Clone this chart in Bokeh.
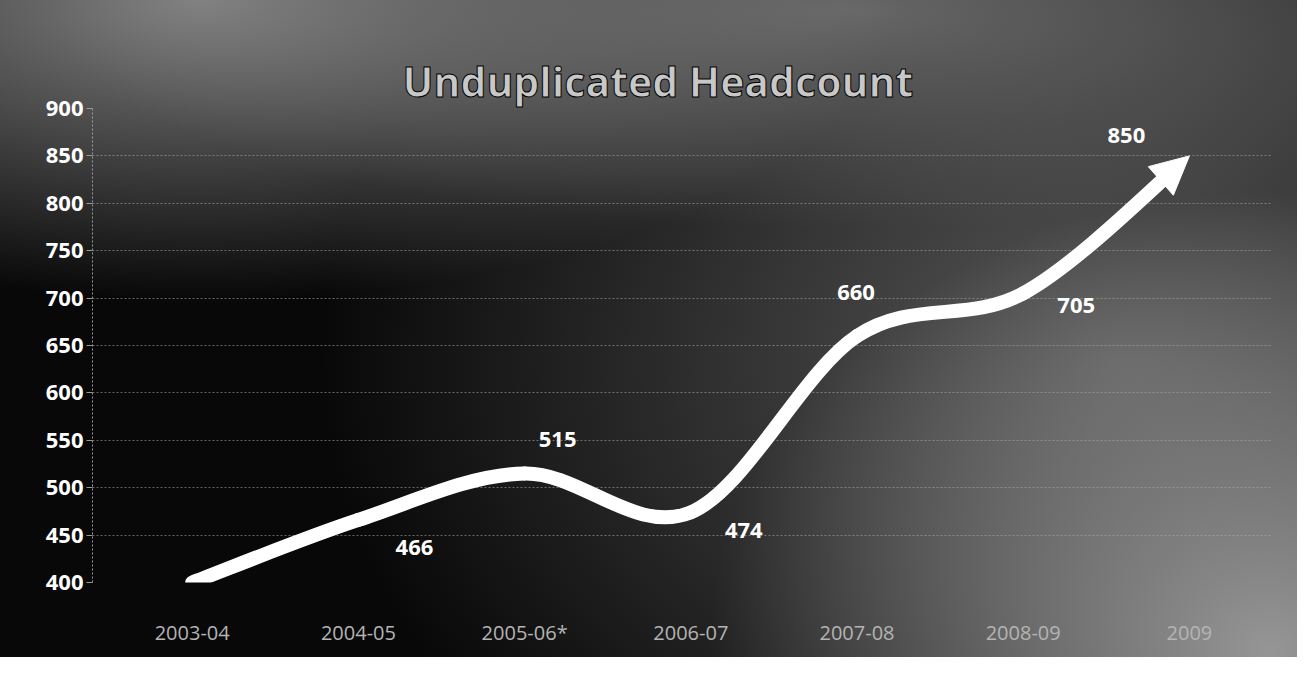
import numpy as np
from bokeh.plotting import figure
from bokeh.models import Range1d, FixedTicker, Arrow, NormalHead
from bokeh.core.properties import value
from bokeh.embed import file_html
from bokeh.resources import INLINE

# ---- data ----
categories = ["2003-04", "2004-05", "2005-06*", "2006-07", "2007-08", "2008-09", "2009"]
headcount = [400, 466, 515, 474, 660, 705, 850]
label_text = ["", "466", "515", "474", "660", "705", "850"]
y_ticks = [400, 450, 500, 550, 600, 650, 700, 750, 800, 850, 900]

# ---- label placement (screen pixel offsets from each point) ----
label_dx = [0, 56, 33, 53, -1, 53, -63]
label_dy = [0, 28, -34, 18, -44, 12, -20]

n = len(categories)
xs = np.arange(n, dtype=float)
ys = np.array(headcount, dtype=float)

# smooth (Catmull-Rom style) bezier segments through the data points
seg = dict(x0=[], y0=[], x1=[], y1=[], cx0=[], cy0=[], cx1=[], cy1=[])
for i in range(n - 1):
    im1 = max(i - 1, 0)
    ip2 = min(i + 2, n - 1)
    p0 = np.array([xs[i], ys[i]]); p1 = np.array([xs[i + 1], ys[i + 1]])
    c0 = p0 + (p1 - np.array([xs[im1], ys[im1]])) / 6.0
    c1 = p1 - (np.array([xs[ip2], ys[ip2]]) - p0) / 6.0
    if i == n - 2:
        # stop the last segment short so the arrow head covers the end
        t = 0.88
        a = p0 + (c0 - p0) * t
        b = c0 + (c1 - c0) * t
        c = c1 + (p1 - c1) * t
        d = a + (b - a) * t
        e = b + (c - b) * t
        f = d + (e - d) * t
        c0, c1, p1 = a, d, f
        arrow_start = f
    seg["x0"].append(p0[0]); seg["y0"].append(p0[1])
    seg["x1"].append(p1[0]); seg["y1"].append(p1[1])
    seg["cx0"].append(c0[0]); seg["cy0"].append(c0[1])
    seg["cx1"].append(c1[0]); seg["cy1"].append(c1[1])

p = figure(
    frame_width=1180, frame_height=474,
    min_border_left=92, min_border_right=25, min_border_top=108, min_border_bottom=75,
    x_range=Range1d(-0.6, 6.5), y_range=Range1d(400, 900),
    output_backend="svg", toolbar_location=None,
    title="Unduplicated Headcount",
)

p.styles = {
    "background": (
        "radial-gradient(ellipse 700px 300px at 200px 0px, rgba(135,135,135,0.95), rgba(135,135,135,0)),"
        "radial-gradient(ellipse 800px 220px at 850px 10px, rgba(110,110,110,0.9), rgba(110,110,110,0)),"
        "radial-gradient(ellipse 560px 460px at 1270px 650px, rgba(155,155,155,0.95), rgba(155,155,155,0)),"
        "radial-gradient(ellipse 800px 600px at 1120px 360px, rgba(92,92,92,0.97), rgba(92,92,92,0)),"
        "#080808"
    )
}
p.background_fill_alpha = 0
p.border_fill_alpha = 0
p.outline_line_color = None

p.title.align = "left"
p.title.offset = 310
p.title.standoff = 0
p.title.text_font = "Open Sans"
p.title.text_font_size = "41px"
p.title.text_font_style = "bold"
p.title.text_color = "#c8c8c8"
p.title.text_outline_color = "black"

# axes
p.xgrid.grid_line_color = None
p.ygrid.grid_line_color = "#b0b0b0"
p.ygrid.grid_line_alpha = 0.55
p.ygrid.grid_line_dash = "2 2"
p.ygrid.ticker = FixedTicker(ticks=y_ticks)

p.yaxis.ticker = FixedTicker(ticks=y_ticks)
p.yaxis.axis_line_color = "#9a9a9a"
p.yaxis.axis_line_dash = "2 2"
p.yaxis.major_tick_line_color = "#9a9a9a"
p.yaxis.major_tick_out = 6
p.yaxis.major_tick_in = 0
p.yaxis.minor_tick_line_color = None
p.yaxis.major_label_standoff = 3
p.yaxis.major_label_text_font = "Open Sans"
p.yaxis.major_label_text_font_size = "22px"
p.yaxis.major_label_text_font_style = "bold"
p.yaxis.major_label_text_color = "white"

p.xaxis.ticker = FixedTicker(ticks=list(range(n)))
p.xaxis.major_label_overrides = {i: c for i, c in enumerate(categories)}
p.xaxis.axis_line_color = None
p.xaxis.major_tick_line_color = None
p.xaxis.minor_tick_line_color = None
p.xaxis.major_label_standoff = 30
p.xaxis.major_label_text_font = "Open Sans"
p.xaxis.major_label_text_font_size = "20px"
p.xaxis.major_label_text_color = "#b4b4b4"

# smooth white line
p.bezier(x0="x0", y0="y0", x1="x1", y1="y1", cx0="cx0", cy0="cy0", cx1="cx1", cy1="cy1",
         source=seg, line_color="white", line_width=14, line_cap="round")

# arrow head at the last point
p.add_layout(Arrow(
    x_start=float(arrow_start[0]), y_start=float(arrow_start[1]),
    x_end=float(xs[-1]), y_end=float(ys[-1]),
    line_alpha=0, line_width=1,
    end=NormalHead(size=38, fill_color="white", line_color="white", line_width=1),
))

# data labels
p.text(x=list(xs[1:]), y=list(ys[1:]), text=label_text[1:],
       x_offset=label_dx[1:], y_offset=label_dy[1:],
       text_align="center", text_baseline="middle",
       text_font=value("Open Sans"), text_font_size="22px", text_font_style="bold",
       text_color="white")

open("out.html", "w").write(file_html(p, INLINE))
